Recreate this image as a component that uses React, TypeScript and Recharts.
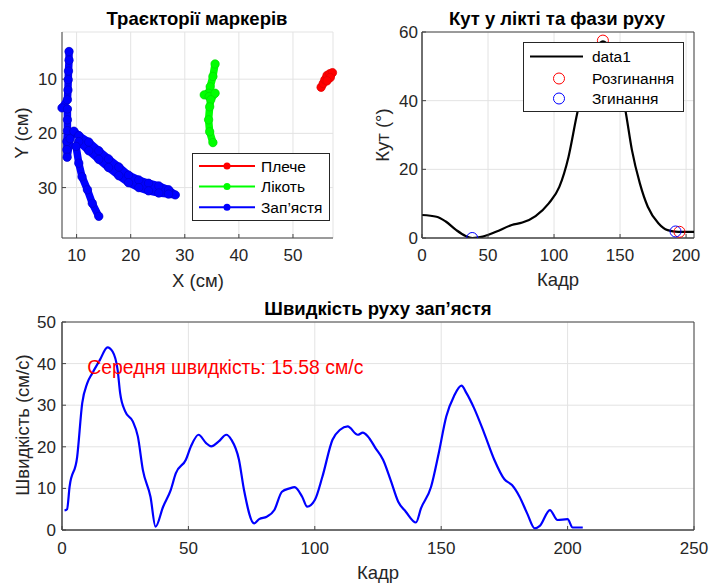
import React from "react";
import {
  ScatterChart,
  Scatter,
  ComposedChart,
  LineChart,
  Line,
  XAxis,
  YAxis,
  CartesianGrid,
  ReferenceArea,
  ReferenceDot,
} from "recharts";

const FONT = '"Liberation Sans", Arial, Helvetica, sans-serif';
const AXIS = "#444444";
const TXT = "#262626";
const GRID = "#e3e3e3";

// marker trajectories, cm (Y grows downwards)
const shoulderX = [55.2, 55.6, 55.9, 56.3, 56.8, 57.3, 56.9, 56.3];
const shoulderY = [11.5, 10.8, 10.1, 9.3, 9.0, 8.8, 9.7, 10.3];

const elbowX = [35.6, 35.2, 34.7, 34.4, 33.6, 34.5, 35.6, 34.8, 34.6, 34.4, 34.6, 35.2];
const elbowY = [7.2, 9.5, 11.4, 12.6, 12.9, 13.2, 12.6, 13.8, 15.1, 17.5, 19.7, 21.7];

const wristX = [
  8.6, 8.6, 8.5, 8.45, 8.4, 8.3, 7.3, 8.3, 8.3, 8.3, 8.2, 8.2, 8.25,
  8.8, 9.5, 10.4,
  12.25, 14.1, 15.9, 17.8, 19.6, 21.5, 23.3, 25.2, 27.0, 28.25,
  27.0, 25.2, 23.3, 21.5, 19.6, 17.8, 15.9, 14.1, 12.25, 10.4,
  9.9, 10.4, 11.0, 12.0, 12.9, 14.1,
];
const wristY = [
  4.9, 6.5, 8.5, 10.1, 12.0, 13.8, 15.3, 15.5, 17.5, 19.5, 21.5, 23.0, 24.4,
  21.0, 19.6, 20.4,
  21.6, 23.2, 24.7, 26.2, 27.7, 28.6, 29.2, 29.7, 30.4, 31.35,
  31.2, 31.0, 30.6, 30.0, 29.1, 27.8, 26.3, 24.8, 23.2, 21.5,
  22.4, 25.5, 28.0, 30.4, 32.9, 35.3,
];

// elbow angle
const angleFrames = [0, 11, 18, 26, 33, 38, 46, 56, 68, 76, 86, 96, 104, 111, 117, 122, 127, 132, 137, 142, 147, 151, 154, 159, 165, 171, 179, 186, 194, 206];
const angleValues = [6.7, 6.2, 4.8, 2.3, 0.6, 0, 0.4, 1.8, 3.8, 4.5, 6.4, 10.1, 14.9, 23.7, 35.3, 44, 51, 55.5, 57.3, 55.5, 50, 43, 37.3, 25.6, 15.9, 9.1, 4.3, 2.3, 1.8, 1.8];
const extFrames = [137, 195];
const extValues = [57.5, 1.8];
const flexFrames = [38, 192];
const flexValues = [0, 1.9];

// wrist speed
const speedFrames = [1, 2, 3, 6, 8, 10, 12, 15, 18, 20, 22, 23, 25, 28, 30, 32, 35, 37, 40, 43, 45, 49, 51, 54, 57, 59, 62, 65, 67, 70, 72, 76, 78, 81, 84, 87, 90, 92, 95, 97, 100, 103, 107, 110, 113, 117, 119, 121, 124, 127, 130, 133, 136, 140, 142, 146, 149, 152, 155, 158, 160, 163, 167, 171, 175, 178, 181, 184, 187, 189, 193, 196, 200, 202, 206];
const speedValues = [4.7, 5.0, 10.4, 17.6, 30.5, 35.3, 37.7, 40.9, 43.9, 42.9, 38.5, 32.9, 28.5, 26.1, 22.5, 14.4, 8.0, 0.8, 5.6, 9.6, 13.6, 16.9, 20.1, 22.9, 20.9, 20.1, 21.3, 22.9, 21.7, 16.9, 9.6, 1.6, 2.6, 3.2, 4.8, 9.2, 10.0, 10.3, 8.0, 5.6, 7.2, 12.8, 21.7, 24.1, 24.9, 22.9, 23.4, 22.5, 19.7, 16.9, 12.0, 6.8, 4.4, 1.8, 5.2, 10.4, 18.4, 27.3, 32.1, 34.7, 32.9, 29.3, 23.3, 16.9, 12.2, 10.8, 8.0, 4.0, 0.4, 1.0, 4.8, 2.4, 2.6, 0.6, 0.6];
const meanSpeed = 15.58;

const pts = (xs: number[], ys: number[]) => xs.map((x, i) => ({ x, y: ys[i] }));
const shoulder = pts(shoulderX, shoulderY);
const elbow = pts(elbowX, elbowY);
const wrist = pts(wristX, wristY);
const angle = angleFrames.map((f, i) => ({ f, a: angleValues[i] }));
const extPts = extFrames.map((f, i) => ({ f, a: extValues[i] }));
const flexPts = flexFrames.map((f, i) => ({ f, a: flexValues[i] }));
const speed = speedFrames.map((f, i) => ({ f, v: speedValues[i] }));

const tick = { fill: TXT, fontSize: 17, fontFamily: FONT };

const bead = (fill: string, edge: string) => (p: any) =>
  <circle cx={p.cx} cy={p.cy} r={4.2} fill={fill} stroke={edge} strokeWidth={0.7} />;
const ring = (color: string) => (p: any) =>
  <circle cx={p.cx} cy={p.cy} r={5.5} fill="none" stroke={color} strokeWidth={1} />;

const trail = (c: string) => ({ stroke: c, strokeWidth: 7.5, strokeLinejoin: "round", strokeLinecap: "round" });

function Label({ x, y, text, rotate, bold, size }: any) {
  return (
    <div
      style={{
        position: "absolute",
        left: x,
        top: y,
        transform: `translate(-50%, -50%)${rotate ? " rotate(-90deg)" : ""}`,
        whiteSpace: "nowrap",
        fontFamily: FONT,
        fontSize: size || 18.5,
        fontWeight: bold ? "bold" : "normal",
        color: bold ? "#000" : TXT,
        lineHeight: 1,
      }}
    >
      {text}
    </div>
  );
}

function TrajLegend() {
  const rows = [
    { name: "Плече", c: "#ff0000" },
    { name: "Лікоть", c: "#00ff00" },
    { name: "Зап’ястя", c: "#0000ff" },
  ];
  return (
    <svg style={{ position: "absolute", left: 192, top: 153 }} width={138} height={68}>
      <rect x={0.5} y={0.5} width={137} height={67} fill="#fff" stroke={TXT} />
      {rows.map((r, i) => (
        <g key={r.name}>
          <line x1={7} x2={63} y1={13 + i * 20.6} y2={13 + i * 20.6} stroke={r.c} strokeWidth={2} />
          <circle cx={35} cy={13 + i * 20.6} r={3.5} fill={r.c} />
          <text x={69} y={13 + i * 20.6} dominantBaseline="central" fontSize={15.5} fontFamily={FONT} fill="#000">
            {r.name}
          </text>
        </g>
      ))}
    </svg>
  );
}

function AngleLegend() {
  return (
    <svg style={{ position: "absolute", left: 523, top: 42 }} width={161} height={70}>
      <rect x={0.5} y={0.5} width={160} height={69} fill="#fff" stroke={TXT} />
      <line x1={7} x2={60} y1={14.5} y2={14.5} stroke="#000" strokeWidth={2} />
      <text x={69} y={14.5} dominantBaseline="central" fontSize={15.5} fontFamily={FONT} fill="#000">data1</text>
      <circle cx={36} cy={36.5} r={5.5} fill="none" stroke="#ff0000" />
      <text x={69} y={36.5} dominantBaseline="central" fontSize={15.5} fontFamily={FONT} fill="#000">Розгинання</text>
      <circle cx={36} cy={56.5} r={5.5} fill="none" stroke="#0000ff" />
      <text x={69} y={56.5} dominantBaseline="central" fontSize={15.5} fontFamily={FONT} fill="#000">Згинання</text>
    </svg>
  );
}

export default function App() {
  return (
    <div style={{ position: "fixed", left: 0, top: 0, width: 711, height: 585, background: "#fff", overflow: "hidden" }}>
      {/* trajectories */}
      <div style={{ position: "absolute", left: 0, top: 0 }}>
        <ScatterChart width={360} height={290} margin={{ top: 32, right: 27, bottom: 22, left: 22 }}>
          <CartesianGrid stroke={GRID} />
          <XAxis
            type="number"
            dataKey="x"
            domain={[7.4, 57.4]}
            ticks={[10, 20, 30, 40, 50]}
            height={30}
            stroke={AXIS}
            tickSize={-4}
            tickMargin={15}
            tick={tick}
          />
          <YAxis
            type="number"
            dataKey="y"
            reversed
            domain={[1.3, 39.3]}
            ticks={[10, 20, 30]}
            width={40}
            stroke={AXIS}
            tickSize={-4}
            tickMargin={9}
            tick={tick}
          />
          <Scatter data={shoulder} fill="#ff0000" line={trail("#ff0000")} shape={bead("#ff0000", "#e00000")} isAnimationActive={false} />
          <Scatter data={elbow} fill="#00ff00" line={trail("#00ff00")} shape={bead("#00ff00", "#00dd00")} isAnimationActive={false} />
          <Scatter data={wrist} fill="#0000ff" line={trail("#0000ff")} shape={bead("#0000ff", "#0000cc")} isAnimationActive={false} />
        </ScatterChart>
      </div>

      {/* elbow angle */}
      <div style={{ position: "absolute", left: 360, top: 0 }}>
        <ComposedChart width={351} height={290} margin={{ top: 32, right: 17, bottom: 22, left: 22 }}>
          <CartesianGrid stroke={GRID} />
          <XAxis
            type="number"
            dataKey="f"
            domain={[0, 206]}
            ticks={[0, 50, 100, 150, 200]}
            allowDataOverflow
            height={30}
            stroke={AXIS}
            tickSize={-4}
            tickMargin={15}
            tick={tick}
          />
          <YAxis
            type="number"
            dataKey="a"
            domain={[0, 60]}
            ticks={[0, 20, 40, 60]}
            allowDataOverflow
            width={40}
            stroke={AXIS}
            tickSize={-4}
            tickMargin={8}
            tick={tick}
          />
          <ReferenceArea x1={0} x2={206} y1={0} y2={60} fill="none" stroke={AXIS} ifOverflow="visible" />
          <Line data={angle} dataKey="a" type="monotone" stroke="#000" strokeWidth={2.2} dot={false} isAnimationActive={false} />
          <Scatter data={extPts} dataKey="a" shape={ring("#ff0000")} isAnimationActive={false} />
          <Scatter data={flexPts} dataKey="a" shape={ring("#0000ff")} isAnimationActive={false} />
        </ComposedChart>
      </div>

      {/* wrist speed */}
      <div style={{ position: "absolute", left: 0, top: 290 }}>
        <LineChart width={711} height={295} data={speed} margin={{ top: 32, right: 17, bottom: 25, left: 22 }}>
          <CartesianGrid stroke={GRID} />
          <XAxis
            type="number"
            dataKey="f"
            domain={[0, 250]}
            ticks={[0, 50, 100, 150, 200, 250]}
            allowDataOverflow
            height={30}
            stroke={AXIS}
            tickSize={-4}
            tickMargin={16}
            tick={tick}
          />
          <YAxis
            type="number"
            domain={[0, 50]}
            ticks={[0, 10, 20, 30, 40, 50]}
            allowDataOverflow
            width={40}
            stroke={AXIS}
            tickSize={-4}
            tickMargin={10}
            tick={tick}
          />
          <ReferenceArea x1={0} x2={250} y1={0} y2={50} fill="none" stroke={AXIS} ifOverflow="visible" />
          <Line dataKey="v" type="monotone" stroke="#0000ff" strokeWidth={2.2} dot={false} isAnimationActive={false} />
          <ReferenceDot
            x={10}
            y={39.2}
            r={0}
            ifOverflow="visible"
            label={{ value: `Середня швидкість: ${meanSpeed.toFixed(2)} см/с`, position: "right", offset: 0, fill: "#ff0000", fontSize: 19.4, fontFamily: FONT }}
          />
        </LineChart>
      </div>

      <TrajLegend />
      <AngleLegend />

      <Label x={197} y={19} text="Траєкторії маркерів" bold />
      <Label x={557} y={19} text="Кут у лікті та фази руху" bold />
      <Label x={378} y={309} text="Швидкість руху зап’ястя" bold />

      <Label x={22} y={133} text="Y (см)" rotate />
      <Label x={198} y={281} text="X (см)" />
      <Label x={383} y={135} text="Кут (°)" rotate />
      <Label x={558} y={280} text="Кадр" />
      <Label x={23} y={425} text="Швидкість (см/с)" rotate />
      <Label x={378} y={573} text="Кадр" />
    </div>
  );
}
